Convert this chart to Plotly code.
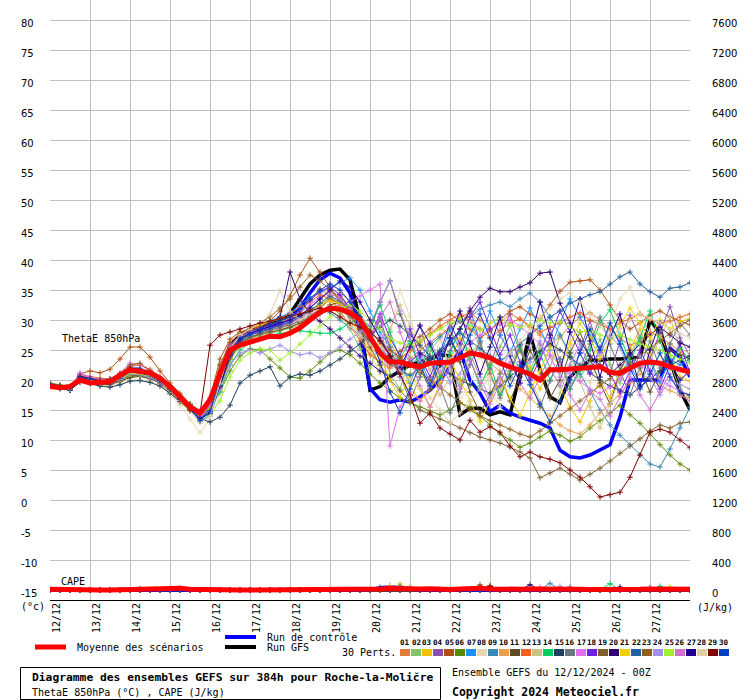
import plotly.graph_objects as go

# ---------------- data ----------------
HOURS = list(range(0, 385, 6))  # 65 forecast steps, every 6 h from 12/12 00Z
DATE_LABELS = ["12/12", "13/12", "14/12", "15/12", "16/12", "17/12", "18/12", "19/12",
               "20/12", "21/12", "22/12", "23/12", "24/12", "25/12", "26/12", "27/12", "28/12"]
Y_TICKS = [80, 75, 70, 65, 60, 55, 50, 45, 40, 35, 30, 25, 20, 15, 10, 5, 0, -5, -10, -15]
CAPE_TICKS = [7600, 7200, 6800, 6400, 6000, 5600, 5200, 4800, 4400, 4000, 3600, 3200,
              2800, 2400, 2000, 1600, 1200, 800, 400, 0]

PERT_NAMES = ["01", "02", "03", "04", "05", "06", "07", "08", "09", "10",
              "11", "12", "13", "14", "15", "16", "17", "18", "19", "20",
              "21", "22", "23", "24", "25", "26", "27", "28", "29", "30"]
PERT_COLORS = ["#e07b39", "#7fc66b", "#f0c000", "#8a4fb0", "#b05010", "#5a8a00",
               "#1e90ff", "#e8d8b0", "#3a8ab8", "#e8a050", "#604a20", "#f06020",
               "#d0c080", "#00d060", "#204060", "#6a7880", "#e070f0", "#7020e0",
               "#806030", "#300070", "#f0d000", "#2060a0", "#906020", "#a090f0",
               "#a0f030", "#d070d0", "#200090", "#e0d0a8", "#800000", "#0040c0"]

P01 = [19.0, 18.6, 18.4, 20.8, 20.2, 19.6, 19.4, 20.2, 21.5, 21.8, 20.9, 19.6, 18.0, 16.5, 15.2, 14.0,
       16.5, 22.5, 25.5, 26.8, 27.5, 28.0, 28.4, 28.9, 29.5, 31.0, 33.5, 35.2, 34.0, 32.5, 30.8, 28.0,
       25.5, 24.0, 22.5, 21.8, 23.5, 25.0, 26.2, 27.5, 28.8, 30.5, 31.2, 30.0, 28.5, 29.5, 31.0, 30.2,
       28.8, 27.5, 26.0, 27.2, 29.0, 30.5, 31.2, 30.0, 28.5, 27.0, 25.8, 26.5, 28.0, 27.2, 26.0, 24.8, 23.5]
P02 = [19.2, 18.9, 18.6, 20.2, 20.0, 19.8, 19.9, 20.6, 21.2, 21.0, 20.6, 19.8, 18.8, 17.4, 15.8, 14.6,
       15.2, 19.5, 24.0, 26.0, 26.9, 27.3, 27.8, 28.2, 28.6, 29.2, 30.0, 31.5, 32.2, 31.0, 28.5, 25.2,
       22.0, 26.5, 21.0, 18.5, 23.8, 20.5, 24.8, 27.0, 22.2, 19.0, 24.5, 26.0, 21.8, 25.5, 29.0, 24.8,
       21.5, 25.8, 22.0, 27.5, 24.0, 20.5, 23.0, 26.8, 22.5, 19.5, 24.0, 27.2, 23.5, 20.0, 22.8, 18.5, 17.0]
P03 = [19.1, 18.7, 18.5, 20.5, 20.3, 20.0, 19.7, 20.4, 21.6, 21.2, 20.5, 19.3, 17.8, 16.2, 14.8, 13.6,
       14.8, 18.2, 23.5, 26.5, 27.8, 28.6, 29.3, 29.8, 30.2, 30.8, 31.5, 32.8, 33.2, 32.0, 30.2, 27.5,
       24.8, 22.5, 26.5, 23.0, 19.0, 16.5, 18.5, 21.0, 23.2, 27.0, 23.5, 19.5, 21.2, 17.5, 21.0, 25.0,
       22.0, 18.5, 22.0, 19.0, 15.5, 13.0, 16.5, 20.0, 17.0, 21.5, 25.0, 28.5, 24.5, 27.5, 24.0, 20.5, 19.8]
P04 = [19.0, 18.8, 18.7, 20.3, 19.9, 19.5, 19.6, 20.5, 21.9, 21.6, 21.2, 20.3, 18.6, 17.0, 15.3, 13.9,
       15.5, 20.5, 25.2, 27.0, 27.6, 28.0, 28.3, 28.8, 29.5, 30.5, 32.0, 33.5, 34.8, 34.0, 32.0, 29.0,
       26.0, 30.5, 24.0, 20.5, 25.8, 29.2, 23.0, 19.5, 24.8, 28.5, 32.0, 26.2, 22.0, 27.5, 31.0, 25.0,
       20.8, 24.5, 28.8, 23.0, 19.5, 25.0, 29.8, 24.5, 21.0, 26.5, 30.8, 27.0, 23.5, 28.0, 32.2, 27.0, 24.0]
P05 = [19.3, 19.0, 18.8, 21.0, 21.5, 21.2, 21.8, 23.5, 25.5, 25.5, 23.8, 21.5, 19.5, 17.8, 16.0, 14.8,
       17.0, 23.5, 26.8, 28.0, 28.5, 29.0, 29.8, 31.5, 34.0, 37.5, 40.3, 38.0, 35.5, 33.0, 31.0, 28.5,
       26.5, 25.0, 23.5, 24.8, 26.0, 27.2, 28.5, 30.0, 31.0, 29.8, 28.5, 27.0, 28.2, 30.0, 31.5, 32.2,
       31.0, 30.2, 32.5, 34.8, 36.3, 36.5, 36.7, 35.0, 32.5, 30.0, 28.5, 29.5, 30.8, 31.5, 30.5, 29.8, 29.2]
P06 = [19.5, 19.2, 18.9, 19.8, 19.5, 19.2, 19.4, 19.8, 20.5, 20.8, 20.6, 19.9, 18.9, 17.5, 16.0, 14.8,
       15.8, 18.0, 21.5, 24.0, 25.2, 25.0, 23.5, 22.0, 20.5, 20.3, 21.5, 23.0, 24.5, 25.0, 24.2, 22.8,
       21.0, 19.5, 18.2, 17.0, 16.2, 15.5, 14.8, 14.2, 15.0, 16.2, 15.5, 14.0, 12.5, 11.0, 10.0, 8.8,
       9.5, 10.5, 11.5, 10.8, 9.8, 10.5, 12.0, 13.2, 14.5, 15.8, 14.2, 12.8, 11.0, 9.2, 7.5, 6.0, 5.0]
P07 = [19.0, 18.6, 18.4, 20.6, 20.4, 20.0, 19.8, 20.6, 22.2, 22.0, 21.3, 20.0, 18.2, 16.6, 15.0, 13.2,
       14.0, 18.8, 24.5, 27.5, 28.6, 29.2, 29.8, 30.5, 31.2, 32.5, 33.8, 34.5, 35.5, 36.2, 37.0, 35.0,
       31.5, 28.0, 25.5, 23.0, 19.5, 23.5, 19.5, 24.0, 28.5, 25.0, 30.0, 26.5, 31.5, 27.5, 24.5, 28.5,
       32.0, 28.5, 25.0, 29.5, 33.5, 30.5, 27.5, 25.0, 29.0, 26.0, 22.5, 19.2, 23.0, 19.5, 23.5, 22.5, 23.5]
P08 = [18.9, 18.5, 18.2, 19.8, 19.6, 19.2, 19.0, 19.5, 20.2, 20.0, 19.8, 19.0, 17.6, 15.8, 13.5, 11.2,
       13.5, 17.5, 23.0, 25.8, 27.0, 27.8, 28.2, 28.6, 29.0, 29.8, 30.5, 31.8, 33.5, 32.2, 30.0, 27.0,
       24.5, 21.0, 27.5, 35.0, 30.5, 25.0, 21.5, 26.8, 21.5, 17.0, 19.0, 24.5, 18.5, 15.5, 22.5, 26.0,
       25.8, 30.5, 28.0, 23.5, 26.5, 21.0, 19.5, 24.0, 28.8, 33.5, 35.5, 31.0, 27.5, 24.0, 22.2, 21.5, 21.0]
P09 = [19.1, 18.8, 18.6, 20.4, 20.0, 19.7, 19.6, 20.3, 21.4, 21.3, 20.8, 19.9, 18.4, 16.9, 15.4, 14.2,
       15.0, 19.8, 24.8, 27.2, 28.0, 28.3, 28.6, 29.0, 29.8, 30.8, 31.6, 32.0, 31.2, 30.0, 28.8, 27.5,
       26.2, 25.0, 24.0, 23.2, 22.5, 24.0, 25.8, 27.2, 28.5, 29.8, 30.5, 31.8, 32.5, 33.0, 32.2, 33.5,
       34.5, 33.0, 30.5, 27.5, 24.5, 21.0, 18.2, 15.0, 12.5, 10.8, 9.2, 7.5, 6.0, 5.5, 8.5, 12.0, 15.5]
P10 = [19.2, 19.0, 18.6, 20.6, 20.2, 19.9, 20.0, 20.8, 22.0, 21.8, 21.0, 19.8, 18.5, 17.0, 15.6, 14.4,
       15.6, 20.8, 25.5, 27.2, 27.8, 28.2, 28.5, 28.8, 29.2, 30.0, 31.0, 32.5, 33.8, 34.5, 33.2, 31.0,
       28.5, 26.0, 24.5, 23.5, 24.8, 26.2, 27.5, 28.8, 27.5, 26.2, 25.0, 24.0, 22.8, 21.5, 20.2, 18.5,
       17.0, 15.5, 14.0, 12.5, 11.5, 11.0, 12.5, 14.5, 16.0, 17.8, 19.5, 21.0, 20.2, 19.0, 18.2, 17.5, 17.0]
P11 = [19.0, 18.7, 18.3, 20.0, 19.8, 19.4, 19.2, 19.8, 20.4, 20.6, 20.2, 19.5, 18.4, 17.1, 15.9, 14.7,
       15.3, 19.2, 23.8, 26.2, 27.2, 27.6, 28.0, 28.4, 28.8, 29.5, 30.2, 31.0, 32.5, 33.0, 32.0, 30.5,
       28.2, 33.0, 36.5, 31.0, 26.5, 22.0, 18.5, 22.5, 27.0, 23.0, 18.0, 14.5, 17.5, 21.0, 16.5, 20.5,
       25.0, 21.5, 17.0, 20.0, 24.5, 28.0, 23.5, 19.5, 16.0, 21.5, 25.0, 22.0, 18.0, 21.5, 25.0, 24.2, 23.5]
P12 = [19.3, 18.9, 18.7, 20.9, 20.6, 20.3, 20.2, 21.0, 22.3, 22.5, 21.8, 20.5, 18.9, 17.3, 15.7, 14.3,
       16.0, 21.5, 25.8, 27.5, 28.2, 28.8, 29.5, 30.2, 31.0, 32.2, 33.0, 34.2, 33.5, 31.5, 29.0, 26.5,
       24.2, 23.0, 22.0, 23.5, 25.0, 26.5, 27.8, 29.0, 30.0, 31.0, 29.8, 28.5, 27.0, 28.2, 29.5, 30.2,
       29.0, 28.0, 28.8, 29.5, 30.5, 31.2, 30.0, 29.2, 28.5, 29.5, 30.2, 31.0, 30.0, 29.5, 29.8, 30.5, 31.0]
P13 = [19.0, 18.7, 18.5, 20.2, 19.9, 19.6, 19.6, 20.2, 21.2, 21.0, 20.4, 19.5, 18.2, 16.8, 15.3, 13.8,
       14.5, 18.5, 23.2, 25.8, 26.8, 27.5, 28.0, 28.5, 29.2, 30.2, 31.5, 32.5, 33.8, 33.0, 31.5, 29.5,
       27.0, 24.0, 28.5, 32.5, 29.0, 25.0, 21.8, 17.5, 20.5, 25.5, 29.8, 25.5, 21.0, 18.0, 22.2, 26.5,
       20.2, 16.5, 13.0, 17.8, 22.5, 19.8, 15.5, 12.0, 16.0, 20.5, 24.2, 27.5, 23.0, 27.0, 30.5, 25.2, 24.5]
P14 = [19.1, 18.8, 18.5, 20.0, 19.8, 19.5, 19.5, 20.0, 21.0, 20.8, 20.5, 19.8, 18.6, 17.2, 15.8, 14.5,
       15.2, 18.0, 22.5, 25.0, 26.2, 27.0, 27.5, 27.8, 28.0, 28.2, 28.0, 27.8, 27.8, 28.5, 29.5, 30.2,
       29.0, 32.5, 28.0, 23.5, 26.5, 22.0, 25.8, 20.5, 24.5, 28.5, 23.5, 19.0, 22.5, 17.5, 21.0, 25.5,
       21.0, 24.5, 20.0, 23.5, 18.5, 21.5, 25.0, 29.5, 31.7, 27.5, 23.0, 27.0, 31.5, 26.5, 22.0, 25.5, 23.0]
P15 = [19.0, 18.6, 18.3, 19.6, 19.4, 19.0, 18.8, 19.2, 19.8, 19.9, 19.6, 19.0, 17.8, 16.4, 15.0, 13.6,
       13.0, 13.8, 15.8, 19.5, 20.8, 21.5, 22.2, 19.0, 20.5, 21.0, 20.8, 21.5, 22.5, 23.5, 24.8, 26.0,
       27.5, 28.8, 30.0, 29.0, 27.5, 25.8, 24.0, 22.5, 21.0, 20.0, 19.2, 18.5, 17.8, 19.0, 20.5, 22.0,
       23.5, 24.8, 26.0, 25.0, 23.8, 22.5, 21.2, 20.0, 19.0, 18.2, 17.5, 18.8, 20.2, 21.5, 22.5, 23.2, 24.0]
P16 = [19.2, 18.9, 18.6, 20.3, 20.1, 19.7, 19.8, 20.4, 21.5, 21.4, 20.9, 19.9, 18.5, 17.0, 15.5, 14.0,
       15.0, 19.5, 24.2, 26.5, 27.2, 27.8, 28.3, 28.7, 29.2, 29.8, 30.5, 31.2, 32.0, 31.8, 30.5, 28.5,
       26.2, 30.0, 25.5, 21.0, 16.5, 20.5, 24.0, 19.0, 14.5, 18.0, 22.5, 26.5, 21.0, 17.0, 21.5, 25.8,
       20.0, 15.5, 19.8, 23.5, 18.5, 22.0, 26.0, 30.5, 26.0, 21.5, 17.5, 22.2, 26.5, 22.0, 26.0, 29.5, 27.5]
P17 = [19.3, 19.0, 18.8, 21.2, 20.5, 20.0, 20.2, 21.2, 22.8, 22.6, 21.5, 20.2, 18.8, 17.2, 15.5, 13.5,
       16.5, 22.0, 25.8, 27.2, 27.8, 28.2, 28.6, 29.0, 29.5, 30.2, 31.0, 31.5, 32.0, 32.5, 33.0, 34.0,
       35.0, 36.0, 9.0, 15.5, 18.0, 16.5, 19.0, 21.5, 23.5, 25.0, 26.2, 27.5, 28.5, 29.2, 30.0, 29.0,
       27.5, 26.0, 24.2, 22.5, 21.0, 19.8, 18.5, 17.8, 18.8, 20.2, 21.8, 22.5, 21.5, 20.2, 19.0, 18.2, 17.5]
P18 = [19.1, 18.8, 18.5, 20.7, 20.3, 20.0, 19.8, 20.5, 21.7, 21.5, 21.0, 20.0, 18.6, 17.1, 15.7, 14.2,
       15.5, 20.2, 24.8, 26.8, 27.6, 28.2, 28.6, 29.2, 30.0, 31.5, 33.2, 34.8, 35.5, 34.2, 32.0, 29.5,
       27.0, 31.0, 27.0, 24.0, 28.5, 24.0, 20.5, 24.5, 29.5, 26.0, 30.5, 33.0, 28.5, 24.2, 27.5, 23.0,
       20.0, 23.5, 27.0, 31.5, 28.0, 24.5, 21.0, 25.5, 21.0, 18.0, 21.5, 25.0, 21.5, 18.5, 22.5, 26.0, 21.2]
P19 = [19.0, 18.7, 18.4, 20.1, 19.8, 19.5, 19.4, 20.0, 20.8, 20.7, 20.3, 19.5, 18.3, 16.9, 15.5, 14.1,
       14.8, 18.8, 23.5, 26.0, 27.0, 27.6, 28.0, 28.3, 28.8, 29.5, 30.5, 32.0, 33.5, 32.8, 31.0, 28.5,
       25.5, 22.5, 20.0, 18.2, 16.5, 15.0, 14.2, 13.5, 12.8, 12.0, 11.2, 10.5, 10.0, 9.5, 8.8, 8.0,
       7.0, 3.7, 4.5, 5.3, 4.3, 3.3, 4.3, 5.3, 6.5, 7.8, 9.0, 10.2, 11.5, 12.5, 12.0, 12.8, 13.0]
P20 = [19.2, 18.9, 18.7, 20.5, 20.1, 19.8, 19.7, 20.4, 21.5, 21.3, 20.8, 19.8, 18.4, 16.9, 15.3, 13.7,
       15.2, 21.0, 25.5, 27.2, 28.0, 28.6, 29.5, 30.5, 38.0, 33.5, 31.0, 29.8, 28.5, 27.0, 25.5, 24.0,
       22.8, 21.5, 20.5, 21.8, 23.0, 24.5, 23.5, 24.8, 26.0, 28.5, 31.5, 33.8, 35.3, 34.7, 34.7, 35.5,
       36.2, 37.8, 38.0, 32.8, 29.5, 26.5, 24.0, 22.5, 21.0, 22.5, 24.2, 26.0, 27.5, 28.8, 27.5, 26.2, 25.5]
P21 = [19.1, 18.7, 18.5, 20.4, 20.2, 19.9, 20.0, 20.7, 21.8, 21.6, 21.1, 20.1, 18.7, 17.2, 15.6, 14.1,
       15.3, 20.0, 25.0, 27.5, 28.5, 29.2, 29.8, 30.2, 30.5, 31.0, 31.8, 32.5, 33.2, 32.8, 31.5, 29.8,
       27.5, 24.0, 20.0, 17.0, 21.0, 18.5, 15.5, 19.5, 23.5, 20.0, 16.5, 13.0, 16.5, 20.5, 17.0, 14.0,
       18.0, 21.5, 25.5, 22.0, 26.0, 29.5, 27.0, 23.5, 26.5, 29.0, 32.0, 29.5, 27.0, 30.0, 28.5, 29.8, 30.2]
P22 = [19.0, 18.6, 18.4, 20.2, 20.0, 19.6, 19.5, 20.2, 21.3, 21.2, 20.7, 19.7, 18.3, 16.8, 15.2, 13.8,
       14.6, 19.0, 24.0, 26.5, 27.5, 28.0, 28.5, 29.0, 29.6, 30.5, 31.5, 32.8, 34.0, 33.2, 31.5, 29.2,
       26.8, 24.5, 22.8, 21.5, 20.8, 22.0, 23.5, 25.0, 26.5, 27.8, 26.5, 25.2, 24.0, 23.0, 24.5, 26.0,
       27.5, 29.0, 30.5, 31.5, 32.8, 33.5, 34.2, 34.7, 36.0, 37.2, 38.0, 36.0, 34.7, 33.8, 35.3, 35.5, 36.2]
P23 = [19.2, 18.8, 18.6, 20.6, 20.3, 20.0, 20.2, 21.0, 22.5, 22.8, 21.5, 20.2, 18.8, 17.4, 15.9, 14.5,
       16.2, 22.5, 26.2, 27.8, 28.6, 29.5, 30.5, 32.0, 33.5, 35.5, 37.5, 36.5, 35.0, 33.5, 32.0, 30.0,
       28.0, 26.5, 25.0, 23.8, 22.5, 21.2, 20.0, 18.8, 17.5, 16.2, 15.0, 14.0, 13.2, 12.5, 11.8, 11.0,
       10.5, 11.5, 12.8, 14.0, 15.2, 16.5, 17.8, 19.0, 20.2, 21.5, 22.8, 24.0, 25.2, 26.5, 27.8, 29.0, 30.0]
P24 = [19.0, 18.7, 18.5, 20.0, 19.8, 19.5, 19.5, 20.1, 21.0, 20.9, 20.4, 19.6, 18.3, 16.9, 15.4, 14.0,
       14.8, 18.5, 22.5, 24.5, 25.0, 24.5, 25.2, 25.8, 24.8, 24.2, 24.5, 23.7, 24.5, 25.5, 26.8, 28.0,
       29.2, 33.0, 36.5, 31.5, 27.0, 23.0, 26.5, 23.2, 19.5, 21.0, 24.5, 20.5, 17.0, 20.5, 25.0, 21.5,
       23.0, 26.5, 22.0, 19.0, 22.5, 26.0, 22.2, 24.5, 27.5, 25.5, 21.0, 24.0, 20.5, 17.5, 20.0, 19.2, 18.5]
P25 = [19.1, 18.8, 18.6, 20.1, 19.9, 19.6, 19.6, 20.2, 21.1, 21.0, 20.6, 19.8, 18.5, 17.0, 15.5, 13.5,
       14.2, 16.5, 20.5, 23.3, 24.5, 25.2, 25.0, 23.3, 24.5, 26.0, 27.5, 29.0, 30.5, 31.8, 32.5, 31.5,
       30.0, 28.5, 27.0, 26.2, 25.8, 26.5, 27.5, 28.5, 29.5, 30.2, 29.0, 28.3, 29.5, 30.5, 29.2, 28.8,
       29.2, 30.0, 29.5, 29.7, 28.8, 28.0, 28.3, 27.5, 26.8, 27.5, 26.7, 26.0, 25.5, 25.0, 24.2, 23.5, 22.8]
P26 = [19.2, 18.9, 18.7, 20.8, 20.4, 20.1, 20.0, 20.8, 22.0, 21.9, 21.2, 20.2, 18.7, 17.2, 15.6, 14.0,
       15.8, 21.2, 25.5, 27.2, 28.0, 28.5, 29.0, 29.5, 30.2, 31.2, 32.5, 33.8, 34.5, 33.5, 31.8, 29.5,
       27.2, 30.5, 33.0, 28.0, 23.5, 19.0, 15.5, 18.8, 22.5, 18.5, 23.2, 19.5, 16.0, 19.5, 23.0, 19.5,
       17.0, 20.5, 24.0, 20.5, 17.5, 15.0, 18.0, 16.8, 14.0, 17.2, 20.5, 17.5, 15.0, 18.0, 21.0, 17.5, 16.5]
P27 = [19.0, 18.7, 18.4, 20.3, 20.0, 19.7, 19.6, 20.3, 21.4, 21.2, 20.7, 19.7, 18.4, 16.8, 15.2, 13.6,
       14.4, 19.0, 24.2, 26.8, 27.8, 28.4, 29.0, 29.5, 30.0, 30.8, 32.0, 33.5, 35.0, 36.5, 35.5, 33.0,
       30.0, 27.0, 24.0, 22.0, 25.5, 29.0, 26.0, 22.5, 27.0, 31.5, 26.0, 21.0, 25.5, 30.5, 24.0, 19.5,
       26.5, 33.0, 27.5, 21.5, 28.0, 33.5, 26.5, 20.5, 27.0, 31.0, 24.5, 19.0, 25.0, 29.5, 23.0, 20.0, 21.5]
P28 = [19.1, 18.8, 18.5, 20.2, 20.0, 19.7, 19.8, 20.4, 21.5, 21.3, 20.8, 19.8, 18.3, 16.6, 14.9, 12.8,
       14.0, 19.5, 25.0, 27.5, 28.5, 29.5, 31.0, 35.0, 31.5, 30.0, 31.0, 32.0, 31.5, 30.5, 29.0, 27.5,
       26.0, 24.5, 23.0, 21.5, 20.0, 18.5, 17.0, 15.0, 12.8, 14.5, 16.5, 18.5, 20.5, 22.5, 24.5, 26.5,
       28.5, 30.5, 32.0, 33.5, 34.5, 33.0, 31.0, 29.0, 27.0, 28.5, 30.0, 31.0, 30.2, 29.5, 28.5, 27.8, 27.0]
P29 = [19.3, 19.0, 18.8, 20.6, 20.2, 19.9, 20.0, 20.9, 22.0, 21.8, 21.2, 20.0, 18.5, 16.8, 15.0, 14.5,
       25.8, 27.5, 28.0, 28.5, 29.0, 29.5, 29.8, 30.2, 30.5, 31.0, 31.5, 32.0, 31.5, 30.5, 29.5, 28.8,
       28.0, 26.5, 24.0, 21.0, 17.5, 12.8, 14.5, 12.0, 11.0, 10.0, 13.3, 11.3, 12.2, 11.3, 9.0, 7.2,
       8.0, 7.2, 6.8, 6.2, 5.0, 3.8, 2.2, 0.5, 0.9, 1.3, 3.8, 7.5, 11.3, 11.8, 11.3, 10.0, 8.7]
P30 = [19.1, 18.8, 18.6, 20.5, 20.2, 19.8, 19.7, 20.5, 21.8, 21.6, 21.0, 19.9, 18.5, 17.0, 15.4, 13.2,
       14.8, 20.5, 25.0, 27.0, 27.8, 28.5, 29.2, 29.8, 30.5, 31.8, 33.5, 35.0, 36.0, 35.0, 33.0, 30.5,
       27.5, 23.0, 18.0, 14.5, 18.5, 22.5, 19.0, 23.5, 27.0, 23.8, 27.5, 31.0, 27.0, 23.5, 19.0, 22.5,
       19.2, 16.0, 13.0, 16.5, 20.0, 24.5, 28.5, 25.0, 29.5, 26.0, 22.0, 18.5, 21.0, 24.5, 20.5, 18.0, 17.5]
PERTS_THETAE = [P01, P02, P03, P04, P05, P06, P07, P08, P09, P10, P11, P12, P13, P14, P15,
                P16, P17, P18, P19, P20, P21, P22, P23, P24, P25, P26, P27, P28, P29, P30]

CTRL_THETAE = [19.0, 18.7, 18.5, 20.3, 20.0, 19.7, 19.6, 20.3, 21.5, 21.3, 20.8, 19.8, 18.4, 16.9, 15.2, 13.8,
               15.0, 20.5, 25.5, 27.2, 28.0, 28.5, 29.0, 29.5, 30.5, 32.0, 34.5, 36.7, 37.8, 37.0, 34.5, 28.0,
               18.6, 16.7, 16.3, 16.7, 16.3, 17.2, 18.3, 20.0, 22.2, 25.0, 20.0, 17.8, 14.7, 15.8, 14.5, 13.8,
               13.3, 12.8, 12.0, 8.3, 7.2, 7.0, 7.5, 8.3, 9.2, 13.8, 20.0, 20.0, 20.0, 20.0, 25.3, 23.8, 20.5]
GFS_THETAE = [19.1, 18.8, 18.6, 20.4, 20.1, 19.8, 19.8, 20.5, 21.6, 21.4, 20.9, 19.9, 18.5, 17.0, 15.4, 14.0,
              15.5, 21.0, 25.8, 27.5, 28.3, 28.8, 29.3, 29.8, 31.0, 33.5, 36.0, 37.5, 38.3, 38.5, 36.7, 30.0,
              18.3, 18.9, 20.5, 21.5, 22.5, 23.0, 23.5, 24.2, 24.0, 14.2, 15.3, 15.3, 14.2, 14.7, 14.2, 21.0,
              27.8, 21.7, 17.2, 16.2, 20.5, 22.0, 23.3, 23.3, 23.5, 23.5, 23.7, 23.8, 30.0, 27.8, 23.3, 18.3, 15.0]
MEAN_THETAE = [18.9, 18.7, 18.9, 20.0, 19.5, 19.5, 19.7, 20.8, 21.7, 21.4, 21.2, 20.3, 18.9, 17.2, 15.5, 14.5,
               16.7, 21.1, 25.0, 25.8, 26.3, 26.8, 27.3, 27.2, 27.8, 28.7, 30.0, 31.3, 32.0, 31.8, 31.2, 30.0,
               27.2, 24.5, 23.0, 23.0, 22.5, 22.2, 22.8, 23.0, 23.0, 23.7, 24.5, 24.2, 23.7, 22.8, 22.2, 21.7,
               21.0, 20.0, 21.7, 21.7, 21.8, 22.0, 22.1, 22.2, 21.3, 21.1, 22.0, 22.8, 23.0, 22.8, 22.2, 21.7, 21.3]

# CAPE (J/kg): ensemble mean, control, GFS, and the few non-zero perturbation values
CAPE_MEAN = [10, 5, 0, 0, 0, 0, 0, 5, 10, 15, 20, 15, 20, 25, 10, 5,
             0, 0, 0, 0, 0, 0, 0, 0, 0, 0, 0, 0, 0, 0, 0, 0,
             5, 15, 20, 15, 10, 12, 18, 10, 8, 12, 20, 25, 15, 10, 8, 10,
             12, 15, 10, 8, 12, 10, 8, 6, 10, 12, 8, 10, 15, 12, 10, 12, 10]
CAPE_CTRL = [0, 0, 0, 0, 0, 0, 0, 0, 0, 0, 0, 0, 0, 0, 0, 0,
             0, 0, 0, 0, 0, 0, 0, 0, 0, 0, 0, 0, 0, 0, 0, 0,
             0, 30, 40, 35, 20, 0, 0, 0, 0, 0, 0, 0, 0, 0, 0, 0,
             0, 0, 0, 0, 0, 0, 0, 0, 0, 0, 0, 0, 0, 0, 0, 0, 0]
CAPE_GFS = [0, 0, 0, 0, 0, 0, 0, 0, 0, 0, 0, 0, 0, 0, 0, 0,
            0, 0, 0, 0, 0, 0, 0, 0, 0, 0, 0, 0, 0, 0, 0, 0,
            0, 0, 0, 0, 0, 0, 0, 0, 0, 0, 0, 0, 0, 0, 0, 0,
            0, 0, 0, 0, 0, 0, 0, 0, 0, 0, 0, 0, 0, 0, 0, 0, 0]
CAPE_PEAKS = [  # (member index 0-29, step index, J/kg)
    (0, 34, 60), (2, 35, 80), (9, 36, 50), (21, 35, 50), (4, 43, 70), (22, 44, 60),
    (10, 43, 40), (19, 48, 70), (8, 50, 90), (16, 49, 40), (23, 51, 50), (15, 52, 40),
    (13, 56, 85), (26, 57, 40), (13, 61, 50), (20, 62, 45), (3, 9, 20), (11, 13, 25),
    (28, 44, 45), (29, 33, 35), (17, 60, 30)]

# ---------------- geometry helpers (pixel -> paper) ----------------
PLOT_L, PLOT_R, PLOT_T, PLOT_B = 50, 690, 0, 600


def px(x):
    return (x - PLOT_L) / (PLOT_R - PLOT_L)


def py(y):
    return (PLOT_B - y) / (PLOT_B - PLOT_T)


MONO = "DejaVu Sans Mono, monospace"
SANS = "DejaVu Sans, sans-serif"

days = [h / 24 for h in HOURS]

fig = go.Figure()

# GFS and control runs (drawn first, under the perturbations)
for vals, cape, col in [(GFS_THETAE, CAPE_GFS, "#000000"), (CTRL_THETAE, CAPE_CTRL, "#0000ff")]:
    fig.add_trace(go.Scatter(x=days, y=vals, mode="lines", yaxis="y",
                             line=dict(color=col, width=3.5), hoverinfo="skip", showlegend=False))
    fig.add_trace(go.Scatter(x=days, y=cape, mode="lines", yaxis="y2",
                             line=dict(color=col, width=3.5), hoverinfo="skip", showlegend=False))

# perturbations: ThetaE
for name, col, vals in zip(PERT_NAMES, PERT_COLORS, PERTS_THETAE):
    fig.add_trace(go.Scatter(
        x=days, y=vals, mode="lines+markers", yaxis="y",
        line=dict(color=col, width=1),
        marker=dict(symbol="cross-thin", size=4, line=dict(color=col, width=1)),
        hoverinfo="skip", showlegend=False))

# perturbations: CAPE
for k, (name, col) in enumerate(zip(PERT_NAMES, PERT_COLORS)):
    cape = [0] * len(HOURS)
    for (m, s, v) in CAPE_PEAKS:
        if m == k:
            cape[s] = v
    fig.add_trace(go.Scatter(
        x=days, y=cape, mode="lines+markers", yaxis="y2",
        line=dict(color=col, width=1),
        marker=dict(symbol="cross-thin", size=4, line=dict(color=col, width=1)),
        hoverinfo="skip", showlegend=False))

# ensemble mean on top
fig.add_trace(go.Scatter(x=days, y=MEAN_THETAE, mode="lines", yaxis="y",
                         line=dict(color="#ff0000", width=5), hoverinfo="skip", showlegend=False))
fig.add_trace(go.Scatter(x=days, y=CAPE_MEAN, mode="lines", yaxis="y2",
                         line=dict(color="#ff0000", width=5), hoverinfo="skip", showlegend=False))

# invisible carrier for the date-label axis
fig.add_trace(go.Scatter(x=[0], y=[0], xaxis="x2", yaxis="y", mode="markers",
                         marker=dict(opacity=0), hoverinfo="skip", showlegend=False))

n_days = len(DATE_LABELS) - 1
y_lo = Y_TICKS[-1] - (PLOT_B - 590) / 6.0
y_hi = Y_TICKS[0] + (20 - PLOT_T) / 6.0
scale = CAPE_TICKS[0] / (Y_TICKS[0] - Y_TICKS[-1])
shift_days = 7 / 40

fig.update_layout(
    width=740, height=700,
    margin=dict(l=PLOT_L, r=740 - PLOT_R, t=PLOT_T, b=700 - PLOT_B, autoexpand=False),
    paper_bgcolor="white", plot_bgcolor="white", showlegend=False,
    xaxis=dict(range=[0, n_days], tickvals=list(range(n_days + 1)), showticklabels=False,
               showgrid=True, gridcolor="#c0c0c0", gridwidth=1, zeroline=False,
               showline=True, linecolor="black", linewidth=1, ticks=""),
    xaxis2=dict(overlaying="x", anchor="y", side="bottom",
                range=[-shift_days, n_days - shift_days],
                tickvals=list(range(n_days + 1)), ticktext=DATE_LABELS,
                tickangle=-90, tickfont=dict(family=MONO, size=10, color="black"),
                showgrid=False, zeroline=False, showline=False, ticks=""),
    yaxis=dict(range=[y_lo, y_hi], tickvals=Y_TICKS, showticklabels=False,
               showgrid=True, gridcolor="#c0c0c0", gridwidth=1, zeroline=False, ticks=""),
    yaxis2=dict(overlaying="y", side="right",
                range=[(y_lo - Y_TICKS[-1]) * scale, (y_hi - Y_TICKS[-1]) * scale],
                showticklabels=False, showgrid=False, zeroline=False, ticks=""),
)

ann = []
# left (°C) tick labels, left aligned
for v in Y_TICKS:
    ann.append(dict(x=px(19), xref="paper", y=v, yref="y", text=str(v), showarrow=False,
                    xanchor="left", yanchor="middle", yshift=-3,
                    font=dict(family=SANS, size=10, color="black")))
# right (J/kg) tick labels
for r in CAPE_TICKS:
    ann.append(dict(x=px(710), xref="paper", y=r, yref="y2", text=str(r), showarrow=False,
                    xanchor="left", yanchor="middle", yshift=-3,
                    font=dict(family=SANS, size=10, color="black")))


def txt(x, y, s, size=10, anchor="left", family=MONO):
    ann.append(dict(x=px(x), y=py(y), xref="paper", yref="paper", text=s, showarrow=False,
                    xanchor=anchor, yanchor="middle",
                    font=dict(family=family, size=size, color="black")))


txt(19, 606, "(°c)")
txt(695, 607, "(J/kg)")
txt(60, 338, "ThetaE 850hPa")
txt(59, 581, "CAPE")
txt(75, 647, "Moyenne des scénarios")
txt(265, 637, "Run de contrôle")
txt(265, 647, "Run GFS")
txt(340, 652, "30 Perts.")
txt(30, 677, "<b>Diagramme des ensembles GEFS sur 384h pour Roche-la-Moličre</b>", size=11.3)
txt(30, 692, "ThetaE 850hPa (°C) , CAPE (J/kg)")
txt(450, 672, "Ensemble GEFS du 12/12/2024 - 00Z")
txt(450, 692, "<b>Copyright 2024 Meteociel.fr</b>", size=11.5)
for k, name in enumerate(PERT_NAMES):
    txt(405 + 11 * k, 642, "<b>" + name + "</b>", size=7.5, anchor="center")

shapes = []
# legend lines
shapes.append(dict(type="line", xref="paper", yref="paper", x0=px(35), x1=px(66), y0=py(647), y1=py(647),
                   line=dict(color="#ff0000", width=5)))
shapes.append(dict(type="line", xref="paper", yref="paper", x0=px(225), x1=px(256), y0=py(637), y1=py(637),
                   line=dict(color="#0000ff", width=4)))
shapes.append(dict(type="line", xref="paper", yref="paper", x0=px(225), x1=px(256), y0=py(647), y1=py(647),
                   line=dict(color="#000000", width=4)))
# perturbation colour swatches
for k, col in enumerate(PERT_COLORS):
    shapes.append(dict(type="rect", xref="paper", yref="paper",
                       x0=px(400 + 11 * k), x1=px(410 + 11 * k), y0=py(656), y1=py(649),
                       line=dict(width=0), fillcolor=col))
# title box
shapes.append(dict(type="rect", xref="paper", yref="paper", x0=px(20.5), x1=px(440.5),
                   y0=py(699.5), y1=py(667.5), line=dict(color="black", width=1)))

fig.update_layout(annotations=ann, shapes=shapes)
fig.write_html("out.html", config={"displayModeBar": False},
               post_script="document.body.style.margin='0px';")
